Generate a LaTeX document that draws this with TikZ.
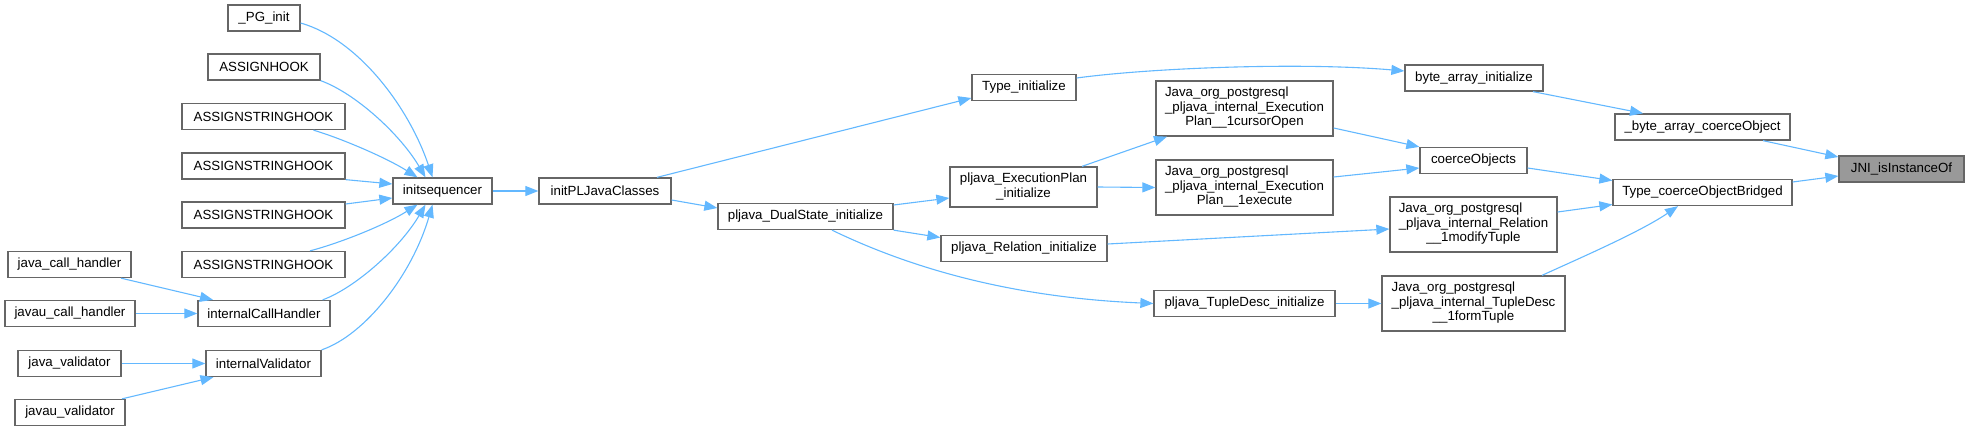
\documentclass[tikz,border=0pt]{standalone}
\usepackage{fontspec}
\setmainfont{Liberation Sans}
\usetikzlibrary{arrows.meta}
\definecolor{edgeblue}{HTML}{63B8FF}
\definecolor{boxgray}{HTML}{666666}
\definecolor{selgray}{HTML}{999999}
\newcommand{\twoln}[2]{\begin{tabular}{@{}l@{}}#1\\\multicolumn{1}{@{}c@{}}{#2}\end{tabular}}
\newcommand{\threeln}[3]{\begin{tabular}{@{}l@{}}#1\\#2\\\multicolumn{1}{@{}c@{}}{#3}\end{tabular}}
\tikzset{
  fbox/.style={draw=boxgray, fill=white, line width=1.3pt, inner sep=0pt, minimum height=26pt,
    font=\fontsize{13.3}{14.5}\selectfont, text=black},
  conn/.style={draw=edgeblue, line width=1.1pt, -{Triangle[length=13pt,width=10pt]}}
}
\begin{document}
\begin{tikzpicture}[x=1pt,y=-1pt]
\useasboundingbox (0,0) rectangle (1969,431);
% column 0
\node[fbox, minimum width=123pt] (jch) at (69.5,264.5) {java\_call\_handler};
\node[fbox, minimum width=130pt] (jvch) at (70,313.5) {javau\_call\_handler};
\node[fbox, minimum width=103pt] (jv) at (69.5,363.5) {java\_validator};
\node[fbox, minimum width=110pt] (jvv) at (70,412.5) {javau\_validator};
% column 1
\node[fbox, minimum width=72pt] (pginit) at (264,18) {\_PG\_init};
\node[fbox, minimum width=112pt] (ahook) at (264,67) {ASSIGNHOOK};
\node[fbox, minimum width=163pt] (ash1) at (263.5,116.5) {ASSIGNSTRINGHOOK};
\node[fbox, minimum width=163pt] (ash2) at (263.5,166) {ASSIGNSTRINGHOOK};
\node[fbox, minimum width=163pt] (ash3) at (263.5,215) {ASSIGNSTRINGHOOK};
\node[fbox, minimum width=163pt] (ash4) at (263.5,264.5) {ASSIGNSTRINGHOOK};
\node[fbox, minimum width=132pt] (ich) at (264,313.5) {internalCallHandler};
\node[fbox, minimum width=115pt] (iv) at (263.5,363.5) {internalValidator};
% column 2
\node[fbox, minimum width=99pt] (initseq) at (442.5,191) {initsequencer};
% column 3
\node[fbox, minimum width=132pt] (ipl) at (605,191) {initPLJavaClasses};
% column 4
\node[fbox, minimum width=175pt] (dual) at (805.5,216.5) {pljava\_DualState\_initialize};
% column 5
\node[fbox, minimum width=104pt] (tinit) at (1024,87.5) {Type\_initialize};
\node[fbox, minimum width=147pt, minimum height=40pt] (epinit) at (1023.5,187) {\twoln{pljava\_ExecutionPlan}{\_initialize}};
\node[fbox, minimum width=166pt] (relinit) at (1024,248.5) {pljava\_Relation\_initialize};
% column 6
\node[fbox, minimum width=177pt, minimum height=55pt] (curs) at (1244.5,108.5) {\threeln{Java\_org\_postgresql}{\_pljava\_internal\_Execution}{Plan\_\_1cursorOpen}};
\node[fbox, minimum width=177pt, minimum height=55pt] (exec) at (1244.5,187.5) {\threeln{Java\_org\_postgresql}{\_pljava\_internal\_Execution}{Plan\_\_1execute}};
\node[fbox, minimum width=181pt] (tdinit) at (1244.5,303.5) {pljava\_TupleDesc\_initialize};
% column 7
\node[fbox, minimum width=138pt] (bainit) at (1474,78) {byte\_array\_initialize};
\node[fbox, minimum width=107pt] (coerce) at (1473.5,160.5) {coerceObjects};
\node[fbox, minimum width=167pt, minimum height=55pt] (modt) at (1473.5,224.5) {\threeln{Java\_org\_postgresql}{\_pljava\_internal\_Relation}{\_\_1modifyTuple}};
\node[fbox, minimum width=183pt, minimum height=55pt] (formt) at (1473.5,303.5) {\threeln{Java\_org\_postgresql}{\_pljava\_internal\_TupleDesc}{\_\_1formTuple}};
% column 8
\node[fbox, minimum width=175pt] (bacoerce) at (1702.5,127) {\_byte\_array\_coerceObject};
\node[fbox, minimum width=179pt] (tcob) at (1702.5,192.5) {Type\_coerceObjectBridged};
% column 9
\node[fbox, fill=selgray, minimum width=125pt] (jni) at (1901.5,169) {JNI\_isInstanceOf};

% edges into initsequencer
\draw[conn] ([shift={(0,5)}]pginit.east) .. controls (360,40) and (410,110) .. ([shift={(-10,0)}]initseq.north);
\draw[conn] (ahook.south east) .. controls (355,93) and (400,134) .. ([shift={(-17,0)}]initseq.north);
\draw[conn] ([shift={(50,0)}]ash1.south) .. controls (340,138) and (385,157) .. ([shift={(-25,0)}]initseq.north);
\draw[conn] (ash2.south east) -- ([shift={(0,-7)}]initseq.west);
\draw[conn] ([shift={(0,-11)}]ash3.east) -- ([shift={(0,7)}]initseq.west);
\draw[conn] ([shift={(46.5,0)}]ash4.north) .. controls (340,243) and (385,225) .. ([shift={(-25,0)}]initseq.south);
\draw[conn] ([shift={(-8,0)}]ich.north east) .. controls (355,288) and (400,248) .. ([shift={(-17,0)}]initseq.south);
\draw[conn] (iv.north east) .. controls (365,335) and (412,275) .. ([shift={(-10,0)}]initseq.south);
% left column edges
\draw[conn] ([shift={(51.5,0)}]jch.south) -- ([shift={(-51,0)}]ich.north);
\draw[conn] (jvch.east) -- (ich.west);
\draw[conn] (jv.east) -- (iv.west);
\draw[conn] ([shift={(52,0)}]jvv.north) -- ([shift={(-50,0)}]iv.south);
% middle
\draw[conn] (initseq.east) -- (ipl.west);
\draw[conn] ([shift={(52,0)}]ipl.north) -- ([shift={(0,10.5)}]tinit.west);
\draw[conn] ([shift={(0,9)}]ipl.east) -- ([shift={(0,-8.5)}]dual.west);
\draw[conn] ([shift={(0,-11.5)}]dual.east) -- ([shift={(0,11)}]epinit.west);
\draw[conn] (dual.south east) -- ([shift={(0,-11)}]relinit.west);
\draw[conn] ([shift={(26.5,0)}]dual.south) .. controls (900,263) and (1000,297) .. (tdinit.west);
\draw[conn] ([shift={(0,-9.5)}]tinit.east) .. controls (1150,68) and (1300,62) .. ([shift={(0,-7)}]bainit.west);
\draw[conn] ([shift={(58.5,0)}]epinit.north) -- ([shift={(-77.5,0)}]curs.south);
\draw[conn] (epinit.east) -- (exec.west);
\draw[conn] ([shift={(0,-4.5)}]relinit.east) -- ([shift={(0,4.5)}]modt.west);
\draw[conn] (tdinit.east) -- (formt.west);
% right part
\draw[conn] ([shift={(59,0)}]bainit.south) -- ([shift={(-59.5,0)}]bacoerce.north);
\draw[conn] ([shift={(0,19.5)}]curs.east) -- (coerce.north west);
\draw[conn] ([shift={(0,-10.5)}]exec.east) -- ([shift={(0,7.5)}]coerce.west);
\draw[conn] ([shift={(0,7.5)}]coerce.east) -- ([shift={(0,-12)}]tcob.west);
\draw[conn] ([shift={(0,-12.5)}]modt.east) -- ([shift={(0,12)}]tcob.west);
\draw[conn] ([shift={(68.5,0)}]formt.north) .. controls (1580,258) and (1640,232) .. ([shift={(-24.5,0)}]tcob.south);
\draw[conn] ([shift={(60.5,0)}]bacoerce.south) -- ([shift={(0,-12)}]jni.west);
\draw[conn] ([shift={(0,-10.5)}]tcob.east) -- ([shift={(0,7)}]jni.west);
\end{tikzpicture}
\end{document}
